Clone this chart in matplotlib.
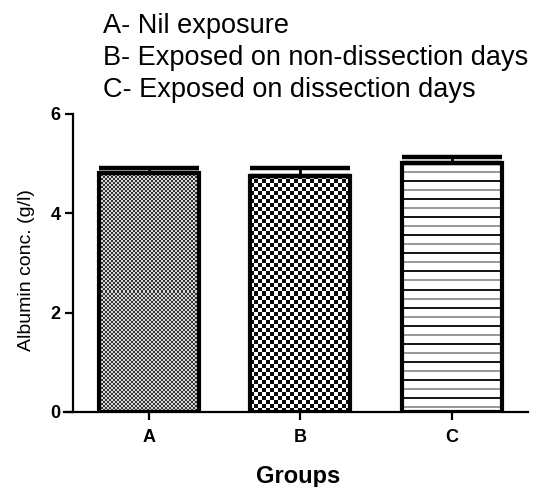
import matplotlib
matplotlib.use("Agg")
import matplotlib.pyplot as plt
import numpy as np

plt.rcParams['font.family'] = ['Liberation Sans', 'DejaVu Sans']

groups = ['A', 'B', 'C']
means = [4.82, 4.76, 5.02]
sems = [0.09, 0.16, 0.12]
yticks = [0, 2, 4, 6]
notes = ['A- Nil exposure',
         'B- Exposed on non-dissection days',
         'C- Exposed on dissection days']

W, H = 558, 487
fig = plt.figure(figsize=(W / 100, H / 100), dpi=100)
ax = fig.add_axes([64 / W, 1 - 412 / H, (528 - 64) / W, (412 - 114) / H])

x = np.arange(len(groups))
ax.set_xlim(-0.56, 2.505)
ax.set_ylim(0, 6)

bars = ax.bar(x, means, width=0.66, facecolor='none', edgecolor='black',
              linewidth=3, zorder=3)
ax.errorbar(x, means, yerr=[np.zeros(len(sems)), sems], fmt='none',
            ecolor='black', elinewidth=2, capsize=36, capthick=3.2, zorder=2)


def checker(nr, nc, sq, c1, c2):
    r = (np.arange(nr) // sq)[:, None]
    c = (np.arange(nc) // sq)[None, :]
    m = ((r + c) % 2).astype(float)
    return np.where(m[..., None] > 0, c1, c2)


def hlines(nr, nc, period):
    img = np.ones((nr, nc, 3))
    for i in range(nr):
        k = i % period
        if k < 2:
            img[i] = 0.1 if (i // period) % 2 == 0 else 0.6
    return img


fig.canvas.draw()
trans = ax.transData
for i, b in enumerate(bars):
    x0, x1 = b.get_x(), b.get_x() + b.get_width()
    (px0, py0), (px1, py1) = trans.transform([(x0, 0), (x1, b.get_height())])
    nc, nr = int(round(px1 - px0)), int(round(py1 - py0))
    if i == 0:
        img = checker(nr, nc, 2, np.array([0.85, 0.85, 0.85]), np.array([0.2, 0.2, 0.2]))
    elif i == 1:
        img = checker(nr, nc, 4, np.array([1.0, 1.0, 1.0]), np.array([0.05, 0.05, 0.05]))
    else:
        img = hlines(nr, nc, 9)
    im = ax.imshow(img, extent=(x0, x1, 0, b.get_height()), aspect='auto',
                   interpolation='nearest', zorder=1)
    im.set_clip_path(b)
ax.set_xlim(-0.56, 2.505)
ax.set_ylim(0, 6)

ax.spines['top'].set_visible(False)
ax.spines['right'].set_visible(False)
ax.spines['left'].set_position(('data', -0.5))
ax.spines['left'].set_linewidth(1.6)
ax.spines['bottom'].set_linewidth(1.6)

ax.set_yticks(yticks)
ax.set_yticklabels([str(v) for v in yticks], fontsize=13, fontweight='bold')
ax.set_xticks(x)
ax.set_xticklabels(groups, fontsize=13, fontweight='bold')
ax.tick_params(axis='both', direction='out', width=1.6)
ax.tick_params(axis='y', length=6, pad=3)
ax.tick_params(axis='x', length=5.5, pad=7)

ax.set_xlabel('Groups', fontsize=17, fontweight='bold', va='baseline')
ax.xaxis.set_label_coords((298 - 64) / 464, (412 - 483) / 298)
ax.set_ylabel('Albumin conc. (g/l)', fontsize=14, va='center')
ax.yaxis.set_label_coords(-(64 - 27) / 464, (412 - 270) / 298)

for j, t in enumerate(notes):
    fig.text(103 / W, 1 - (33 + 32 * j) / H, t, fontsize=19.5, va='baseline', ha='left')

fig.savefig('out.png', dpi=100)
